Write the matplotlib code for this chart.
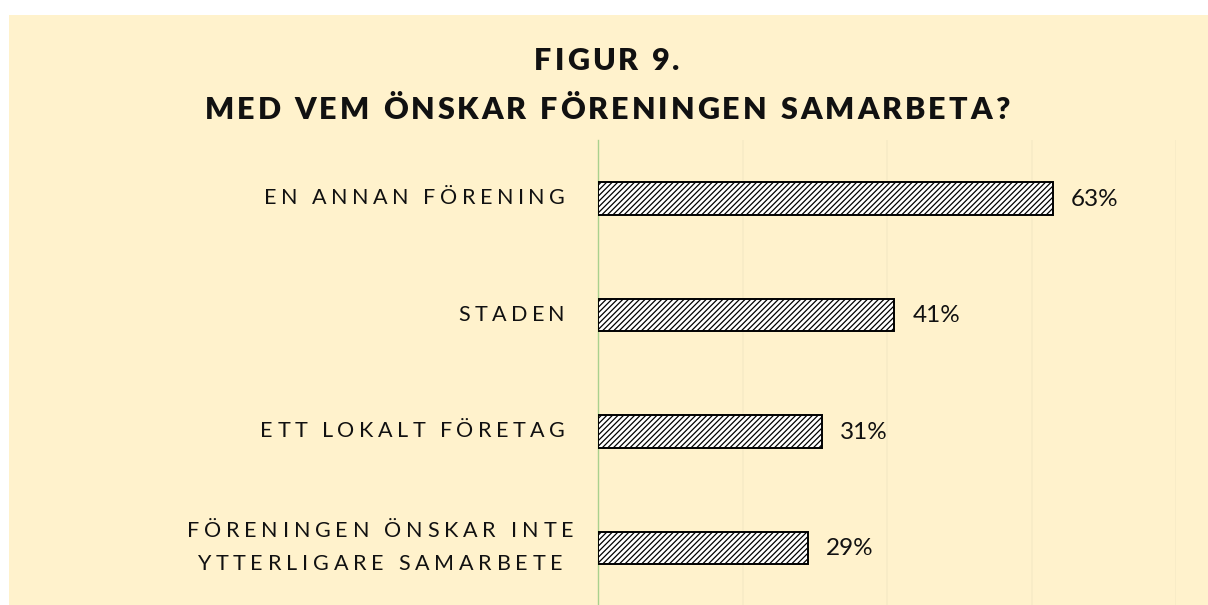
import numpy as np
import matplotlib.pyplot as plt
from matplotlib.transforms import offset_copy
from matplotlib.font_manager import FontProperties

categories = ["EN ANNAN FÖRENING", "STADEN", "ETT LOKALT FÖRETAG",
              "FÖRENINGEN ÖNSKAR INTE\nYTTERLIGARE SAMARBETE"]
values = [63, 41, 31, 29]
title_lines = ["FIGUR 9.", "MED VEM ÖNSKAR FÖRENINGEN SAMARBETA?"]

bg = "#FFF2CC"
plt.rcParams['hatch.linewidth'] = 0.9

fig = plt.figure(figsize=(12.08, 6.05), dpi=100)
fig.patch.set_facecolor("white")
# beige chart area
fig.patches.append(plt.Rectangle((9 / 1208, 0), 1, 1 - 15 / 605, transform=fig.transFigure,
                                 facecolor=bg, edgecolor="none", zorder=-10))

ax = fig.add_axes([598 / 1208, -0.002, 578 / 1208, 1 - 140 / 605 + 0.002])
ax.set_facecolor("none")

y = np.arange(len(categories))
ax.barh(y, values, height=0.28, color="white", edgecolor="black", linewidth=1.4,
        hatch="//////", zorder=3)
ax.set_xlim(0, 80)
ax.set_ylim(len(categories) - 0.5, -0.5)
ax.set_xticks([20, 40, 60, 80])
ax.grid(axis="x", color="#F7EBC6", linewidth=1.2, zorder=0)
ax.tick_params(left=False, bottom=False, labelbottom=False, labelleft=False)
for s in ["top", "right", "bottom"]:
    ax.spines[s].set_visible(False)
ax.spines["left"].set_color("#A9D18E")
ax.spines["left"].set_linewidth(1.0)

for yi, v in zip(y, values):
    ax.text(v, yi, f"{v}%", va="center", ha="left", fontsize=17.5,
            family="Lato", color="#111111",
            transform=offset_copy(ax.transData, fig=fig, x=18, y=-1, units="dots"))

renderer = fig.canvas.get_renderer()


def tracked(s, x, yv, trans, size, weight, track, align, line_gap, shift=0):
    prop = FontProperties(family="Lato", size=size, weight=weight)
    lines = s.split("\n")
    n = len(lines)
    for li, line in enumerate(lines):
        widths = [renderer.get_text_width_height_descent(c if c != " " else "n", prop, ismath=False)[0]
                  * (0.45 if c == " " else 1) for c in line]
        total = sum(widths) + track * (len(line) - 1)
        if align == "right":
            start = shift - total
        else:
            start = shift - total / 2
        dy = ((n - 1) / 2 - li) * line_gap
        cx = start
        for c, w in zip(line, widths):
            t = offset_copy(trans, fig=fig, x=cx, y=dy, units="dots")
            fig.text(x, yv, c, transform=t, fontproperties=prop, ha="left", va="center",
                     color="#111111")
            cx += w + track


for yi, lab in zip(y, categories):
    if "\n" in lab:
        # two-line label is centred on its own block
        tracked(lab, 0, yi, ax.get_yaxis_transform(), 15.5, "normal", 4.8, "center", 33, shift=-218)
    else:
        tracked(lab, 0, yi, ax.get_yaxis_transform(), 15.5, "normal", 4.5, "right", 33, shift=-33)

for i, line in enumerate(title_lines):
    tracked(line, 0.5, [1 - 61 / 605, 1 - 110 / 605][i], fig.transFigure, 22, "heavy", 3.0, "center", 0,
            shift=3)

fig.savefig("out.png", dpi=100, facecolor=fig.get_facecolor())
